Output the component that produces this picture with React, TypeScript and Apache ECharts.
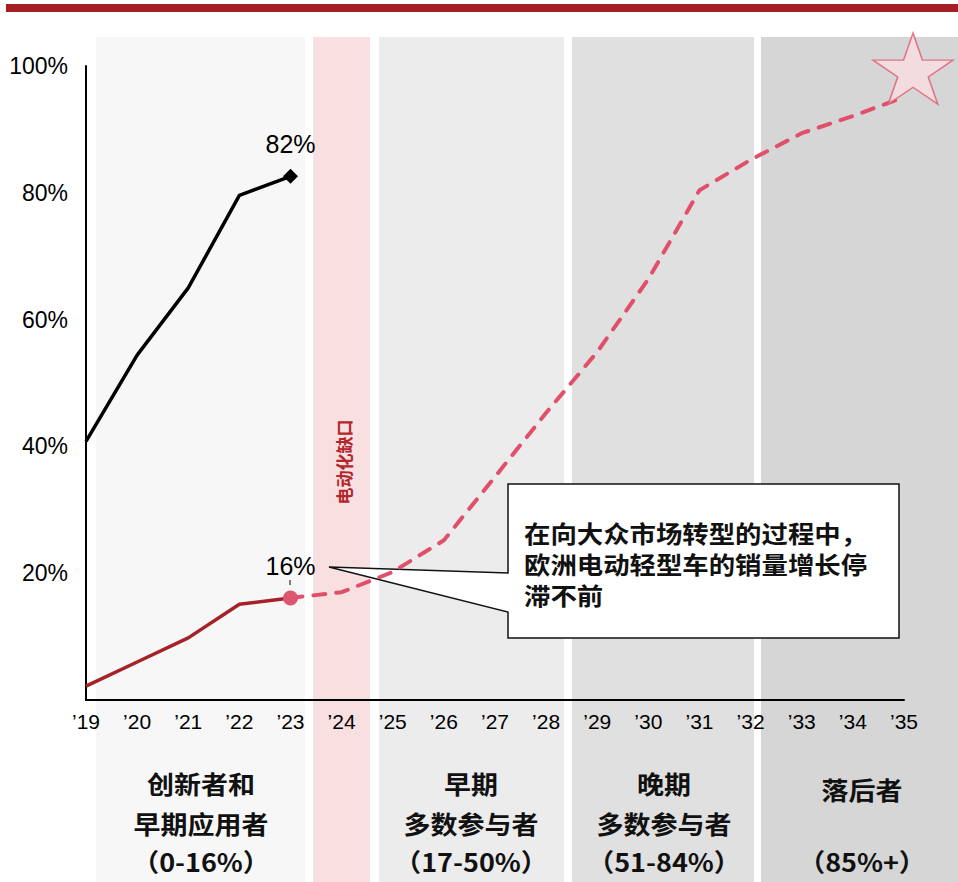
import React, { useEffect, useRef } from "react";
import * as echarts from "echarts";

// ---- data ----
const years = ["’19", "’20", "’21", "’22", "’23", "’24", "’25", "’26", "’27", "’28", "’29", "’30", "’31", "’32", "’33", "’34", "’35"];
const leaderShare = [40.8, 54.4, 65.0, 79.6, 82.6];
const europeActual = [2.2, 6.0, 9.8, 15.1, 16.1];
const europeForecast = [null, null, null, null, 16.1, 17.0, 20.2, 25.2, 35.2, 45.3, 54.9, 66.4, 80.4, 85.2, 89.4, 92.1, 95.1];
const targetStar = 99.6;
const yTicks = [0, 20, 40, 60, 80, 100];

const phaseTitles = [
  ["创新者和", "早期应用者", "（0-16%）"],
  ["早期", "多数参与者", "（17-50%）"],
  ["晚期", "多数参与者", "（51-84%）"],
  ["落后者", "", "（85%+）"],
];
const gapLabel = "电动化缺口";
const calloutLines = ["在向大众市场转型的过程中，", "欧洲电动轻型车的销量增长停", "滞不前"];

const LATIN = "'Liberation Sans', Arial, 'Noto Sans CJK SC', sans-serif";
const CJK = "'Noto Sans CJK SC', 'Liberation Sans', sans-serif";

const STAR_PATH =
  "path://M95.1 0L117.55 69.1L190.2 69.1L131.43 111.8L153.88 180.9L95.1 138.2L36.32 180.9L58.77 111.8L0 69.1L72.65 69.1Z";

export default function App() {
  const ref = useRef<HTMLDivElement>(null);
  useEffect(() => {
    if (!ref.current) return;
    const chart = echarts.init(ref.current, null, { renderer: "svg" });

    const bands = [
      { x0: 96, x1: 305, color: "#f7f7f7" },
      { x0: 313, x1: 370, color: "#f8dfe0" },
      { x0: 379, x1: 564, color: "#ececec" },
      { x0: 572, x1: 754, color: "#e0e0e0" },
      { x0: 761, x1: 958, color: "#d6d6d6" },
    ];
    const phaseCenters = [201, 471, 664, 862];
    const graphics: any[] = [];
    graphics.push({
      type: "rect",
      z: -10,
      shape: { x: 6, y: 4, width: 952, height: 8 },
      style: { fill: "#a31f24" },
      silent: true,
    });
    bands.forEach((b) =>
      graphics.push({
        type: "rect",
        z: -10,
        shape: { x: b.x0, y: 37, width: b.x1 - b.x0, height: 882 - 37 },
        style: { fill: b.color },
        silent: true,
      })
    );
    graphics.push({
      type: "text",
      z: 5,
      x: 343,
      y: 462,
      rotation: Math.PI / 2,
      style: {
        text: gapLabel,
        x: 0,
        y: 0,
        fill: "#b3262c",
        font: `bold 17px ${CJK}`,
        align: "center",
        verticalAlign: "middle",
      },
    });
    // callout
    graphics.push({
      type: "polygon",
      z: 1,
      shape: {
        points: [
          [508, 484],
          [899, 484],
          [899, 638],
          [508, 638],
          [508, 612],
          [329, 567],
          [508, 573],
        ],
      },
      style: { fill: "#ffffff", stroke: "#111111", lineWidth: 1.5 },
    });
    const calloutY = [533, 564, 595];
    calloutLines.forEach((t, i) =>
      graphics.push({
        type: "text",
        z: 20,
        x: 524,
        y: calloutY[i],
        scaleX: 1.1,
        style: {
          text: t,
          x: 0,
          y: 0,
          fill: "#111111",
          font: `bold 24px ${CJK}`,
          align: "left",
          verticalAlign: "middle",
        },
      })
    );
    // 16% label leader tick
    graphics.push({
      type: "line",
      z: 5,
      shape: { x1: 290, y1: 580, x2: 290, y2: 585 },
      style: { stroke: "#000", lineWidth: 1 },
    });
    phaseTitles.forEach((lines, i) => {
      const cx = phaseCenters[i];
      const ys = i === 3 ? [789, -1, 861] : [783, 823, 861];
      lines.forEach((t, j) => {
        if (!t) return;
        graphics.push({
          type: "text",
          z: 5,
          x: cx,
          y: ys[j],
          scaleX: 1.08,
          style: {
            text: t,
            x: 0,
            y: 0,
            fill: "#111111",
            font: `bold 25px ${CJK}`,
            align: "center",
            verticalAlign: "middle",
          },
        });
      });
    });

    const lastIdx = leaderShare.length - 1;
    const option: any = {
      animation: false,
      backgroundColor: "transparent",
      grid: { left: 86, top: 66, right: 54, bottom: 182, containLabel: false },
      xAxis: {
        type: "category",
        data: years,
        boundaryGap: false,
        axisLine: { show: true, lineStyle: { color: "#000", width: 2 } },
        axisTick: { show: false },
        axisLabel: {
          color: "#000",
          fontSize: 21,
          fontFamily: LATIN,
          margin: 11,
          interval: 0,
        },
        splitLine: { show: false },
        z: 3,
      },
      yAxis: {
        type: "value",
        min: yTicks[0],
        max: yTicks[yTicks.length - 1],
        interval: 20,
        axisLine: { show: true, lineStyle: { color: "#000", width: 2 } },
        axisTick: { show: false },
        splitLine: { show: false },
        axisLabel: {
          color: "#000",
          fontSize: 23,
          fontFamily: LATIN,
          margin: 18,
          formatter: (v: number) => (v === 0 ? "" : `${v}%`),
        },
        z: 3,
      },
      graphic: graphics,
      series: [
        {
          type: "line",
          name: "forecast",
          data: europeForecast,
          symbol: "none",
          lineStyle: { color: "#e0506b", width: 4, type: [12, 11], cap: "round" },
          z: 4,
        },
        {
          type: "line",
          name: "europe",
          data: europeActual.map((v, i) =>
            i === europeActual.length - 1
              ? {
                  value: v,
                  symbol: "circle",
                  symbolSize: 15,
                  itemStyle: { color: "#de5570" },
                  label: {
                    show: true,
                    position: "top",
                    distance: 12,
                    formatter: `${Math.round(v)}%`,
                    color: "#000",
                    fontSize: 25,
                    fontFamily: LATIN,
                  },
                }
              : { value: v, symbol: "none" }
          ),
          showSymbol: true,
          lineStyle: { color: "#a52228", width: 3.5 },
          itemStyle: { color: "#a52228" },
          z: 5,
        },
        {
          type: "line",
          name: "leaders",
          data: leaderShare.map((v, i) =>
            i === lastIdx
              ? {
                  value: v,
                  symbol: "diamond",
                  symbolSize: 15,
                  label: {
                    show: true,
                    position: "top",
                    distance: 12,
                    formatter: `${Math.floor(v)}%`,
                    color: "#000",
                    fontSize: 25,
                    fontFamily: LATIN,
                  },
                }
              : { value: v, symbol: "none" }
          ),
          showSymbol: true,
          lineStyle: { color: "#000", width: 3.5 },
          itemStyle: { color: "#000" },
          z: 5,
        },
        {
          type: "scatter",
          name: "target",
          data: [[years.length - 1, targetStar]],
          symbol: STAR_PATH,
          symbolSize: [80, 71],
          symbolOffset: [9, 0],
          clip: false,
          itemStyle: { color: "#f9dde1", borderColor: "#e05a70", borderWidth: 1.5 },
          z: 6,
        },
      ],
    };
    chart.setOption(option);
    return () => chart.dispose();
  }, []);
  return (
    <div
      ref={ref}
      style={{ position: "absolute", left: 0, top: 0, width: 958, height: 882, background: "#fff" }}
    />
  );
}
